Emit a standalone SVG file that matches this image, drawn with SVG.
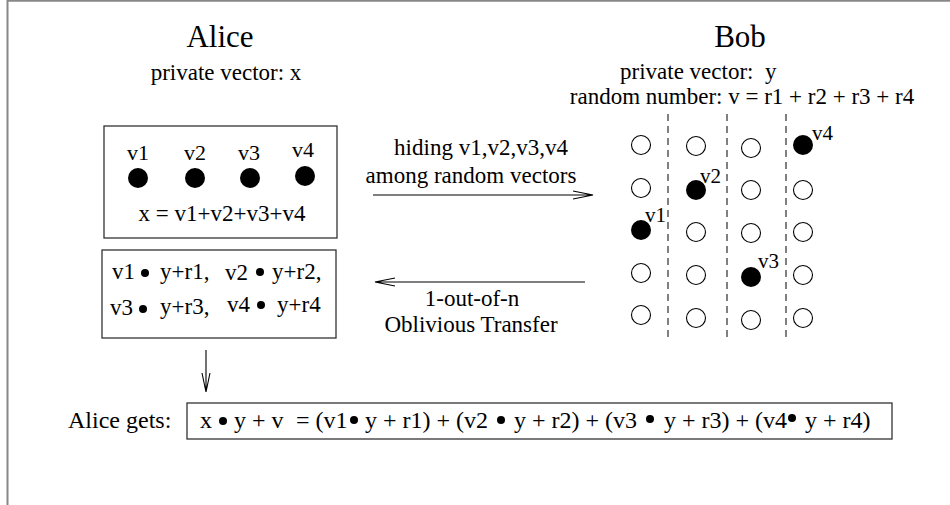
<svg xmlns="http://www.w3.org/2000/svg" width="950" height="505" viewBox="0 0 950 505">
<defs>
<style>
text{font-family:"Liberation Serif","Times New Roman",serif;fill:#000;}
.t{font-size:23px;}
.f{font-size:24px;}
.title{font-size:31px;text-anchor:middle;}
.mid{text-anchor:middle;}
.box{fill:none;stroke:#333;stroke-width:1.3;}
.dot{fill:#000;}
.ring{fill:none;stroke:#000;stroke-width:1.1;}
.dash{stroke:#000;stroke-width:1;stroke-dasharray:7,5;fill:none;}
.conn{stroke:#000;stroke-width:1.1;fill:none;}
.frame{stroke:#888;stroke-width:2;fill:none;}
</style>
</defs>
<rect width="950" height="505" fill="#fff"/>
<path class="frame" d="M7.5,505 V0.8 H950"/>

<g id="alice-title">
<text class="title" x="220" y="47">Alice</text>
<text class="t mid" x="226" y="80">private vector: x</text>
</g>

<g id="bob-title">
<text class="title" x="740" y="47">Bob</text>
<text class="t" x="620" y="79" xml:space="preserve">private vector:  y</text>
<text class="t mid" x="742" y="104">random number: v = r1 + r2 + r3 + r4</text>
</g>

<g id="alice-vector">
<rect class="box" x="104" y="126" width="233" height="112"/>
<text class="t mid" x="138" y="160" style="font-size:22px">v1</text>
<text class="t mid" x="195" y="160" style="font-size:22px">v2</text>
<text class="t mid" x="249" y="160" style="font-size:22px">v3</text>
<text class="t mid" x="303" y="157" style="font-size:22px">v4</text>
<circle class="dot" cx="138" cy="178" r="10"/>
<circle class="dot" cx="195" cy="178" r="10"/>
<circle class="dot" cx="250" cy="178" r="10"/>
<circle class="dot" cx="305" cy="176" r="10"/>
<text class="t mid" x="222" y="221">x = v1+v2+v3+v4</text>
</g>

<g id="alice-products">
<rect class="box" x="102" y="250" width="234" height="88"/>
<text class="t" x="112" y="279">v1</text>
<circle class="dot" cx="145" cy="273" r="4"/>
<text class="t" x="160" y="279">y+r1,</text>
<text class="t" x="225" y="280">v2</text>
<circle class="dot" cx="260" cy="272" r="4"/>
<text class="t" x="272" y="279">y+r2,</text>
<text class="t" x="110" y="315">v3</text>
<circle class="dot" cx="143" cy="309" r="4"/>
<text class="t" x="160" y="314">y+r3,</text>
<text class="t" x="227" y="312">v4</text>
<circle class="dot" cx="261" cy="305" r="4"/>
<text class="t" x="277" y="312">y+r4</text>
</g>

<g id="bob-grid">
<line class="dash" x1="668" y1="114" x2="668" y2="340"/>
<line class="dash" x1="727" y1="114" x2="727" y2="340"/>
<line class="dash" x1="786" y1="114" x2="786" y2="340"/>
<circle class="ring" cx="641" cy="145" r="9.5"/>
<circle class="ring" cx="641" cy="188" r="9.5"/>
<circle class="dot" cx="641" cy="230" r="10"/>
<circle class="ring" cx="641" cy="273" r="9.5"/>
<circle class="ring" cx="641" cy="315" r="9.5"/>
<circle class="ring" cx="696" cy="146" r="9.5"/>
<circle class="dot" cx="696" cy="190" r="10"/>
<circle class="ring" cx="696" cy="232" r="9.5"/>
<circle class="ring" cx="696" cy="275" r="9.5"/>
<circle class="ring" cx="696" cy="318" r="9.5"/>
<circle class="ring" cx="751" cy="148" r="9.5"/>
<circle class="ring" cx="751" cy="190" r="9.5"/>
<circle class="ring" cx="751" cy="233" r="9.5"/>
<circle class="dot" cx="751" cy="277" r="10"/>
<circle class="ring" cx="751" cy="320" r="9.5"/>
<circle class="dot" cx="803" cy="145" r="10"/>
<circle class="ring" cx="803" cy="190" r="9.5"/>
<circle class="ring" cx="803" cy="232" r="9.5"/>
<circle class="ring" cx="803" cy="275" r="9.5"/>
<circle class="ring" cx="803" cy="318" r="9.5"/>
<text class="t" x="645" y="222" style="font-size:21px">v1</text>
<text class="t" x="700" y="183" style="font-size:21px">v2</text>
<text class="t" x="758" y="268" style="font-size:21px">v3</text>
<text class="t" x="812" y="140" style="font-size:21px">v4</text>
</g>

<g id="result">
<text class="f" x="68" y="428">Alice gets:</text>
<rect class="box" x="187" y="403" width="705" height="36"/>
<text class="f" x="200" y="428">x</text>
<circle class="dot" cx="223" cy="421" r="4"/>
<text class="f" x="234" y="428">y + v</text>
<text class="f" x="296" y="428">= (v1</text>
<circle class="dot" cx="354" cy="420" r="4"/>
<text class="f" x="365" y="428">y + r1) + (v2</text>
<circle class="dot" cx="501" cy="420" r="4"/>
<text class="f" x="514" y="428">y + r2) + (v3</text>
<circle class="dot" cx="650" cy="419" r="4"/>
<text class="f" x="664" y="428">y + r3) + (v4</text>
<circle class="dot" cx="792" cy="418" r="4"/>
<text class="f" x="805" y="428">y + r4)</text>
</g>

<g id="connectors">
<path class="conn" d="M373,195 H593 M573,191 L593,195 L573,199"/>
<path class="conn" d="M585,282 H375 M395,278 L375,282 L395,286"/>
<path class="conn" d="M206,350 V392 M202,373 L206,392 L210,373"/>
<text class="t mid" x="481" y="155">hiding v1,v2,v3,v4</text>
<text class="t mid" x="471" y="183">among random vectors</text>
<text class="t mid" x="472" y="306">1-out-of-n</text>
<text class="t mid" x="471" y="332">Oblivious Transfer</text>
</g>
</svg>
